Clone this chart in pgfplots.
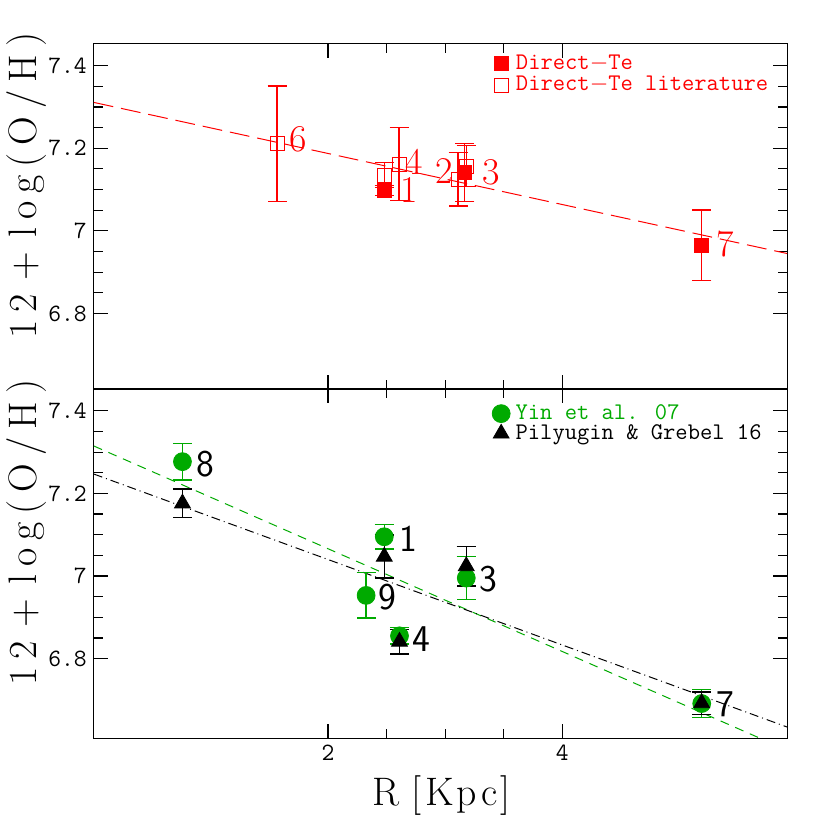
\documentclass[border=0pt]{standalone}
\usepackage{fontspec}
\usepackage{pgfplots}
\pgfplotsset{compat=1.18}
\newfontfamily\labfont{Latin Modern Roman}[LetterSpace=20]
\newfontfamily\xlabfont{Latin Modern Roman}[LetterSpace=8]
\definecolor{pgred}{RGB}{255,0,0}
\definecolor{pggreen}{RGB}{0,170,0}

\pgfplotsset{
  panel/.style={
    scale only axis, width=348.5pt,
    xmin=0, xmax=5.92,
    xtick={2,4}, minor x tick num=3,
    ytick={6.8,7,7.2,7.4}, minor y tick num=3,
    tick align=inside,
    major tick length=7pt, minor tick length=4.5pt,
    axis line style={line width=0.7pt},
    tick style={black, line width=0.6pt},
    ticklabel style={font=\fontsize{12.5}{14}\ttfamily},
    /pgf/number format/assume math mode=true,
    ylabel={12\hspace{0.35em}+\hspace{0.35em}log(O/H)},
    ylabel style={at={(axis description cs:-0.097,0.589)}, anchor=center,
      font=\fontsize{20}{23}\labfont},
    legend cell align=left,
    legend image code/.code={\path[draw=none, fill=none] (-0.14cm,-0.1cm) rectangle (0.22cm,0.1cm);
      \draw[#1] plot coordinates {(0cm,0cm)};},
    legend style={draw=none, fill=none, anchor=north west, inner sep=0pt,
      row sep=0pt, font=\fontsize{12}{13}\ttfamily, nodes={inner sep=1pt}},
  },
  ebar/.style={error bars/.cd, y dir=both, y explicit,
    error bar style={line width=0.7pt, draw=#1, color=#1},
    error mark options={rotate=90, mark size=4.8pt, line width=0.7pt, draw=#1, color=#1}},
}

\begin{document}
\begin{tikzpicture}
\begin{axis}[panel, at={(0,175.5pt)}, anchor=south west, height=173.5pt,
  ymin=6.617, ymax=7.453, xticklabels={},
  legend style={at={(0.576,0.975)}}]
  \addplot[pgred, dash pattern=on 10pt off 4pt, line width=0.5pt, forget plot]
    coordinates {(0,7.311) (5.92,6.945)};
  \addplot[only marks, pgred, mark=square*, mark size=3.5pt, ebar=pgred]
    table[x=x, y=y, y error=e] {
    x      y      e
    2.48   7.098  0.012
    3.167  7.141  0.070
    5.19   6.965  0.085
  };
  \addlegendentry{\textcolor{pgred}{Direct$-$Te}}
  \addplot[only marks, pgred, mark=square, mark size=3.5pt, ebar=pgred]
    table[x=x, y=y, y error=e] {
    x      y      e
    1.565  7.211  0.140
    2.607  7.162  0.088
    2.48   7.135  0.030
    3.11   7.125  0.065
    3.18   7.157  0.050
  };
  \addlegendentry{\textcolor{pgred}{Direct$-$Te literature}}
  \begin{scope}[font=\fontsize{19}{21}\selectfont, text=pgred]
    \node at (axis cs:1.746,7.222) {6};
    \node at (axis cs:2.737,7.166) {4};
    \node at (axis cs:2.69,7.098) {1};
    \node at (axis cs:2.99,7.145) {2};
    \node at (axis cs:3.39,7.142) {3};
    \node at (axis cs:5.39,6.969) {7};
  \end{scope}
\end{axis}

\begin{axis}[panel, at={(0,0)}, anchor=south west, height=175.5pt,
  ymin=6.607, ymax=7.453,
  xlabel={R\hspace{0.3em}[Kpc]},
  xlabel style={at={(axis description cs:0.502,-0.165)}, anchor=center,
    font=\fontsize{20}{23}\xlabfont},
  legend style={at={(0.574,0.962)}, row sep=-1pt}]
  \addplot[pggreen, dash pattern=on 4.5pt off 3.5pt, line width=0.5pt, forget plot]
    coordinates {(0,7.315) (5.92,6.578)};
  \addplot[black, dash pattern=on 4.5pt off 2pt on 0.5pt off 2pt, line width=0.5pt, forget plot]
    coordinates {(0,7.247) (5.92,6.634)};
  \addplot[only marks, pggreen, mark=*, mark size=4.5pt, ebar=pggreen]
    table[x=x, y=y, y error=e] {
    x      y      e
    0.757  7.277  0.044
    2.48   7.095  0.030
    2.325  6.953  0.055
    3.18   6.995  0.052
    2.61   6.855  0.020
    5.19   6.691  0.034
  };
  \addlegendentry{\textcolor{pggreen}{Yin et al. 07}}
  \addplot[only marks, black, mark=triangle*, mark size=4.6pt, ebar=black]
    table[x=x, y=y, y error=e] {
    x      y      e
    0.757  7.176  0.035
    2.48   7.047  0.052
    3.18   7.024  0.048
    2.61   6.841  0.030
    5.19   6.692  0.027
  };
  \addlegendentry{Pilyugin \& Grebel 16}
  \begin{scope}[font=\fontsize{19}{21}\sffamily]
    \node at (axis cs:0.949,7.270) {8};
    \node at (axis cs:2.686,7.089) {1};
    \node at (axis cs:2.508,6.949) {9};
    \node at (axis cs:3.373,6.993) {3};
    \node at (axis cs:2.797,6.848) {4};
    \node at (axis cs:5.39,6.689) {7};
  \end{scope}
\end{axis}
\path (-45pt,-44pt) rectangle (370pt,371pt);
\end{tikzpicture}
\end{document}
